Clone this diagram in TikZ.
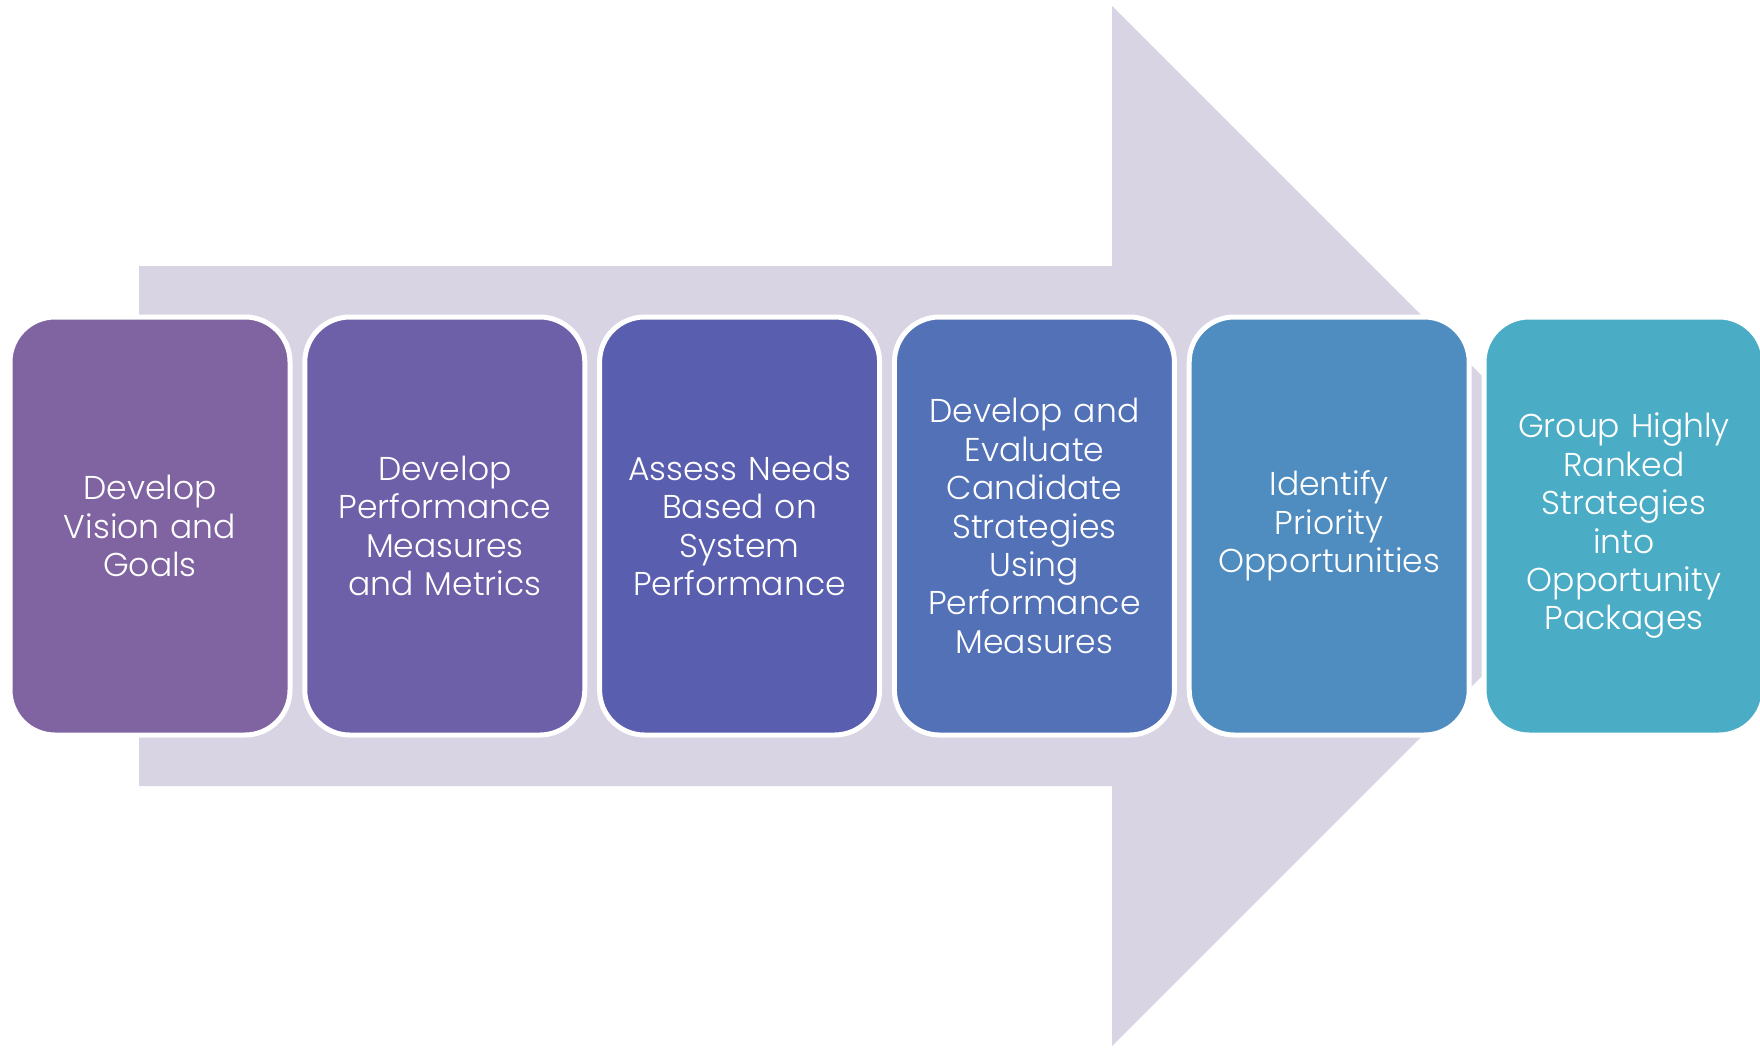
\documentclass[tikz,border=0pt]{standalone}
\usepackage{fontspec}
\setmainfont{Poppins Light}
\definecolor{arrowc}{RGB}{216,212,227}
\definecolor{cA}{RGB}{128,100,162}
\definecolor{cB}{RGB}{110,96,168}
\definecolor{cC}{RGB}{90,94,174}
\definecolor{cD}{RGB}{83,113,183}
\definecolor{cE}{RGB}{79,140,192}
\definecolor{cF}{RGB}{75,172,198}
\tikzset{
  stepbox/.style={rounded corners=45pt, draw=white, line width=5pt,
    minimum width=280pt, minimum height=418pt, text width=254pt, align=center,
    text=white, font=\fontsize{33}{38.4}\selectfont, inner sep=0pt},
}
\begin{document}
\begin{tikzpicture}[x=1pt,y=-1pt]
\useasboundingbox (0,0) rectangle (1760,1047);
\fill[arrowc] (139,266) -- (1112,266) -- (1112,6) -- (1632,526) -- (1112,1046) -- (1112,786) -- (139,786) -- cycle;
\node[stepbox, fill=cA] (b1) at (150,526) {Develop\\Vision and\\Goals};
\node[stepbox, fill=cB] (b2) at (444.8,526) {Develop\\Performance\\Measures\\and Metrics};
\node[stepbox, fill=cC] (b3) at (739.6,526) {Assess Needs\\Based on\\System\\Performance};
\node[stepbox, fill=cD] (b4) at (1034.4,526) {Develop and\\Evaluate\\Candidate\\Strategies\\Using\\Performance\\Measures};
\node[stepbox, fill=cE] (b5) at (1329.2,526) {Identify\\Priority\\Opportunities};
\node[stepbox, fill=cF] (b6) at (1624,526) {Group Highly\\Ranked\\Strategies\\into\\Opportunity\\Packages};
\end{tikzpicture}
\end{document}
